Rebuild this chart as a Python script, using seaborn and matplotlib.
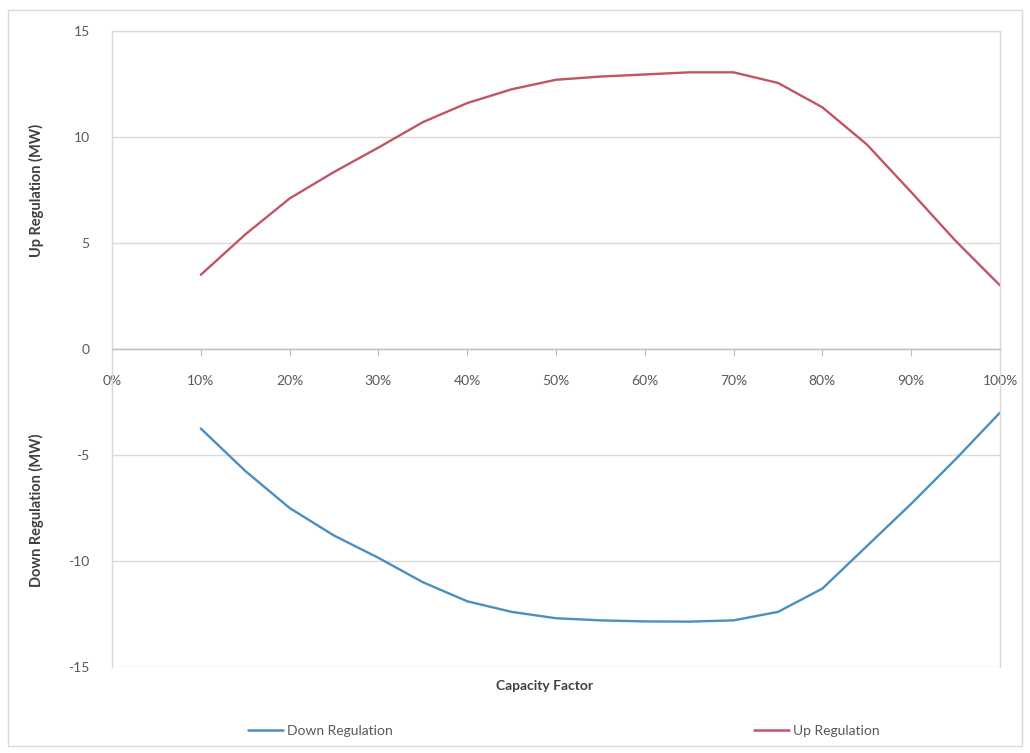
#!/usr/bin/env python3
"""Up / down regulation versus capacity factor (Excel-style line chart)."""
import matplotlib

matplotlib.use("Agg")
import matplotlib.pyplot as plt
import numpy as np
import pandas as pd
import seaborn as sns
from matplotlib.patches import Rectangle
from matplotlib.ticker import FixedLocator, PercentFormatter

# values, every 5% of capacity factor
capacity = [0.10, 0.15, 0.20, 0.25, 0.30, 0.35, 0.40, 0.45, 0.50, 0.55,
            0.60, 0.65, 0.70, 0.75, 0.80, 0.85, 0.90, 0.95, 1.00]
up_reg = [3.5, 5.4, 7.1, 8.35, 9.5, 10.7, 11.6, 12.25, 12.7, 12.85,
          12.95, 13.05, 13.05, 12.55, 11.4, 9.65, 7.4, 5.1, 3.0]
down_reg = [-3.75, -5.75, -7.5, -8.8, -9.85, -11.0, -11.9, -12.4, -12.7, -12.8,
            -12.85, -12.86, -12.8, -12.4, -11.3, -9.3, -7.3, -5.2, -3.0]
series_names = ["Down Regulation", "Up Regulation"]
y_ticks = [-15, -10, -5, 0, 5, 10, 15]
x_ticks = [0.0, 0.1, 0.2, 0.3, 0.4, 0.5, 0.6, 0.7, 0.8, 0.9, 1.0]

COLORS = {"Down Regulation": "#4a8fc1", "Up Regulation": "#c25565"}
GRID = "#d9d9d9"
TXT = "#595959"

df = pd.concat([
    pd.DataFrame({"cf": capacity, "mw": down_reg, "series": series_names[0]}),
    pd.DataFrame({"cf": capacity, "mw": up_reg, "series": series_names[1]}),
])

sns.set_style("white")
plt.rcParams["font.family"] = ["Lato", "DejaVu Sans"]
plt.rcParams["axes.unicode_minus"] = False

fig = plt.figure(figsize=(10.3, 7.53), dpi=100)
ax = fig.add_axes([112 / 1030, 1 - 667 / 753, 888 / 1030, 636 / 753])

sns.lineplot(data=df, x="cf", y="mw", hue="series", palette=COLORS,
             linewidth=1.7, legend=False, ax=ax, sort=True)

ax.set_xlim(0, 1)
ax.set_ylim(-15, 15)
ax.yaxis.set_major_locator(FixedLocator(y_ticks))
ax.xaxis.set_major_locator(FixedLocator(x_ticks))
ax.xaxis.set_major_formatter(PercentFormatter(1.0, decimals=0))
ax.grid(axis="y", color=GRID, linewidth=1.0)
ax.set_axisbelow(True)

for side in ["left", "right", "top"]:
    ax.spines[side].set_color(GRID)
    ax.spines[side].set_linewidth(1.0)
ax.spines["bottom"].set_position(("data", 0))
ax.spines["bottom"].set_color("#bfbfbf")
ax.spines["bottom"].set_linewidth(1.0)

ax.tick_params(axis="x", direction="out", length=5, color="#bfbfbf",
               pad=14, labelsize=10, labelcolor=TXT, bottom=True)
ax.tick_params(axis="y", length=0, pad=16, labelsize=10, labelcolor=TXT, left=True)
ax.set_xlabel("")
ax.set_ylabel("")

fig.text(545 / 1030, 1 - 686 / 753, "Capacity Factor", ha="center", va="center",
         fontsize=10, fontweight="bold", color="#404040")
fig.text(36 / 1030, 1 - 190 / 753, "Up Regulation (MW)", rotation=90,
         ha="center", va="center", fontsize=10.5, fontweight="bold", color="#404040")
fig.text(36 / 1030, 1 - 510 / 753, "Down Regulation (MW)", rotation=90,
         ha="center", va="center", fontsize=10.5, fontweight="bold", color="#404040")

handles = [plt.Line2D([], [], color=COLORS[n], linewidth=1.8) for n in series_names]
fig.legend(handles, series_names, loc="center", bbox_to_anchor=(564 / 1030, 1 - 731 / 753),
           ncol=2, frameon=False, fontsize=10, handlelength=2.5, handletextpad=0.3,
           columnspacing=26, labelcolor=TXT)

# chart-area border like the Excel frame
fig.patches.append(Rectangle((8 / 1030, 1 - 746 / 753), 1014 / 1030, 736 / 753,
                             transform=fig.transFigure, fill=False,
                             edgecolor="#d9d9d9", linewidth=1.0))

fig.savefig("out.png", dpi=100)
